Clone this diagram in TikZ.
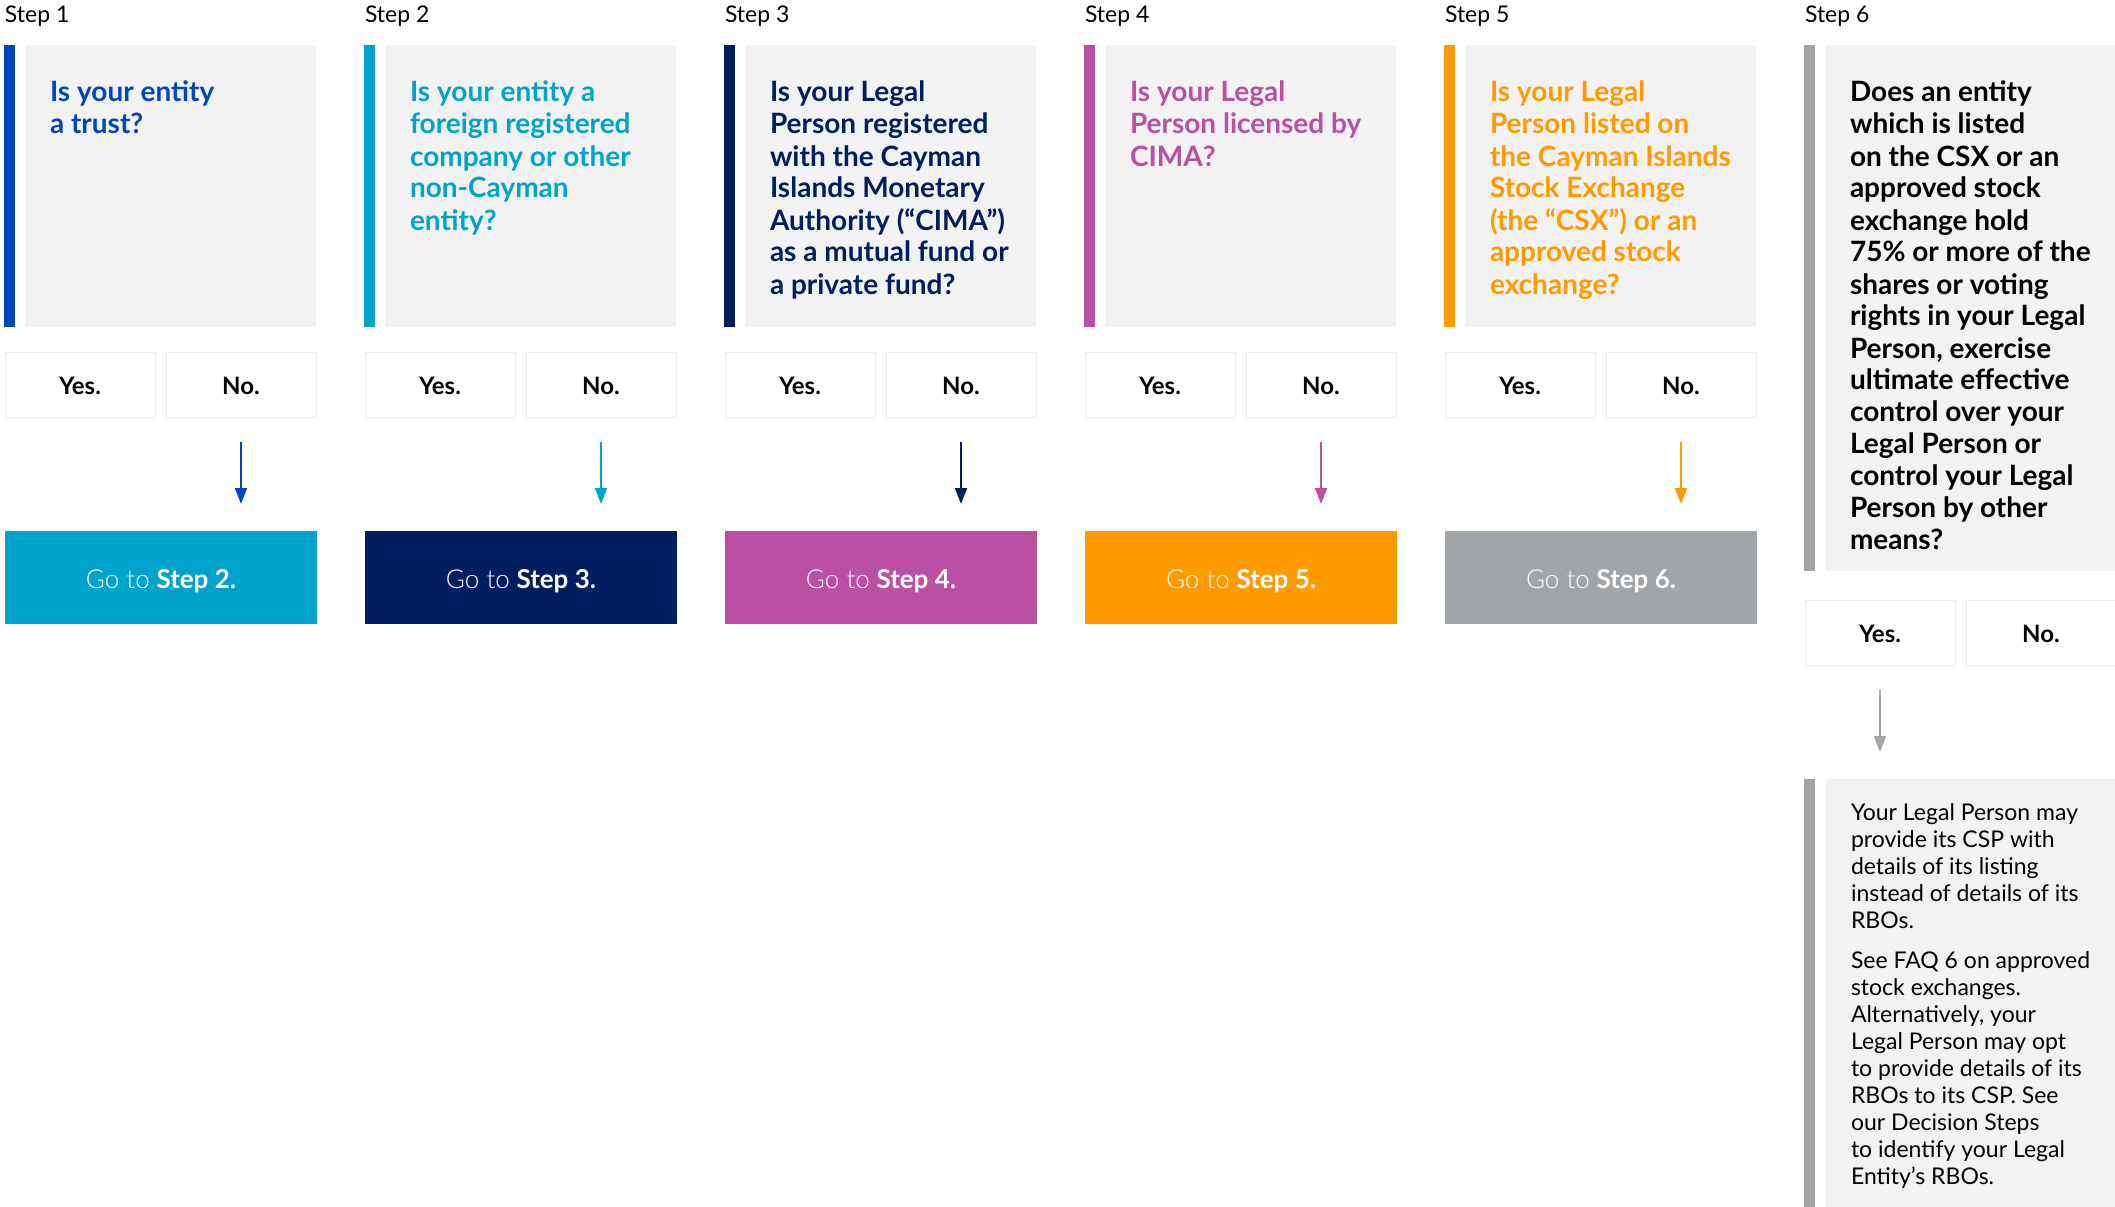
\documentclass[tikz,border=0pt]{standalone}
\usepackage{fontspec}
\setmainfont{Lato}
\newfontfamily\golight{Lato Light}
\usetikzlibrary{arrows.meta}

\definecolor{stepblue}{HTML}{0047BA}
\definecolor{stepcyan}{HTML}{00A3CC}
\definecolor{stepnavy}{HTML}{001E60}
\definecolor{steppink}{HTML}{BB4FA2}
\definecolor{steporange}{HTML}{FF9A00}
\definecolor{stepgrey}{HTML}{A2A5A8}
\definecolor{boxgrey}{HTML}{F2F2F2}
\definecolor{edgegrey}{HTML}{EDEDED}

\begin{document}
\begin{tikzpicture}[x=1pt, y=-1pt,
	every node/.style={inner sep=0pt, outer sep=0pt},
	sidebar/.style={fill=#1, minimum width=11pt, anchor=north west},
	qbox/.style={fill=boxgrey, minimum width=290pt, anchor=north west},
	qtext/.style={anchor=base west, text=#1},
	answer/.style={draw=edgegrey, line width=1pt, fill=white, minimum width=150pt, minimum height=65pt, anchor=north west, text height=19pt, text depth=0pt, font=\fontsize{24}{28}\selectfont\bfseries},
	gobox/.style={fill=#1, text=white, minimum width=312pt, minimum height=93pt, anchor=north west, text height=21pt, text depth=0pt, font=\fontsize{26}{30}\selectfont},
	flow/.style={draw=#1, line width=2pt, -{Triangle[width=12pt,length=16pt]}, shorten <=25pt, shorten >=27pt}]
	\tikzset{steplabel/.style={anchor=base west, font=\fontsize{23}{27}\selectfont}}
	\useasboundingbox (0,0) rectangle (2115,1207);
	\foreach \i/\c/\nc/\txt [evaluate=\i as \L using 4+360*(\i-1), evaluate=\i as \n using int(\i+1)] in {
		1/stepblue/stepcyan/{Is your entity\\a trust?},
		2/stepcyan/stepnavy/{Is your entity a\\foreign registered\\company or other\\non-Cayman\\entity?},
		3/stepnavy/steppink/{Is your Legal\\Person registered\\with the Cayman\\Islands Monetary\\Authority (“CIMA”)\\as a mutual fund or\\a private fund?},
		4/steppink/steporange/{Is your Legal\\Person licensed by\\CIMA?},
		5/steporange/stepgrey/{Is your Legal\\Person listed on\\the Cayman Islands\\Stock Exchange\\(the “CSX”) or an\\approved stock\\exchange?}}
	{
	\node[steplabel] (s\i) at (\L+1,23) {Step \i};
	\node[sidebar=\c, minimum height=282pt] (bar\i) at (\L,45) {};
	\node[qbox, minimum height=282pt] (q\i) at (\L+22,45) {};
	\node[qtext=\c] (qt\i) at (\L+46,102)
		{\parbox[t]{265pt}{\raggedright\fontsize{28}{32}\selectfont\bfseries \txt}};
	\node[answer] (yes\i) at (\L+1,352) {Yes.};
	\node[answer] (no\i) at (\L+162,352) {No.};
	\node[gobox=\nc] (go\i) at (\L+1,531) {{\golight Go to} \textbf{Step \n.}};
	\draw[flow=\c] (no\i.south) -- (no\i.south |- go\i.north);
	}
	\node[steplabel] (s6) at (1805,23) {Step 6};
	\node[sidebar=stepgrey, minimum height=526pt] (bar6) at (1804,45) {};
	\node[qbox, minimum height=526pt] (q6) at (1826,45) {};
	\node[qtext=black] (qt6) at (1850,102)
		{\parbox[t]{265pt}{\raggedright\fontsize{28}{32}\selectfont\bfseries
		Does an entity\\which is listed\\on the CSX or an\\approved stock\\exchange hold\\75\% or more of the\\shares or voting\\rights in your Legal\\Person, exercise\\ultimate effective\\control over your\\Legal Person or\\control your Legal\\Person by other\\means?}};
	\node[answer] (yes6) at (1805,600) {Yes.};
	\node[answer] (no6) at (1966,600) {No.};
	\node[sidebar=stepgrey, minimum height=430pt] (nbar) at (1804,779) {};
	\node[qbox, minimum height=430pt] (note) at (1826,779) {};
	\node[qtext=black] (notetext) at (1851,820)
		{\parbox[t]{265pt}{\raggedright\fontsize{23}{27}\selectfont
		Your Legal Person may\\provide its CSP with\\details of its listing\\instead of details of its\\RBOs.\\[13pt]
		See FAQ 6 on approved\\stock exchanges.\\Alternatively, your\\Legal Person may opt\\to provide details of its\\RBOs to its CSP. See\\our Decision Steps\\to identify your Legal\\Entity’s RBOs.}};
	\draw[flow=stepgrey] (yes6.south) -- (yes6.south |- note.north);
\end{tikzpicture}
\end{document}
